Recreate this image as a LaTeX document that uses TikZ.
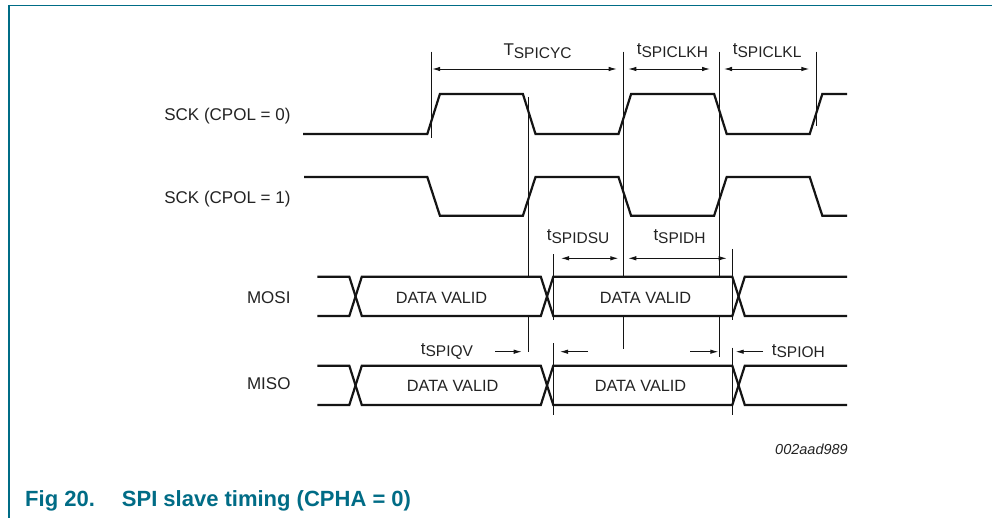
\documentclass[tikz,border=0pt]{standalone}
\usepackage{fontspec}
\setmainfont{Liberation Sans}
\usetikzlibrary{arrows.meta}
\definecolor{figteal}{RGB}{0,108,134}
\definecolor{sigcol}{RGB}{20,20,20}
\definecolor{txtcol}{RGB}{35,35,35}
\newcommand\tlab[2]{{\fontsize{17}{17}\selectfont #1}\raisebox{-2.8pt}{\fontsize{15.5}{15.5}\selectfont #2}}
\begin{document}
\begin{tikzpicture}[x=1pt,y=-1pt,
  sig/.style={line width=2.2pt, line join=miter, draw=sigcol},
  refl/.style={line width=0.9pt, draw=sigcol},
  dimar/.style={line width=0.9pt, draw=sigcol, {Latex[length=8pt,width=4.5pt]}-{Latex[length=8pt,width=4.5pt]}},
  onear/.style={line width=0.9pt, draw=sigcol, -{Latex[length=8pt,width=4.5pt]}},
  lbl/.style={anchor=base east, inner sep=0pt, font=\fontsize{17}{17}\selectfont, text=txtcol},
  tl/.style={anchor=base west, inner sep=0pt, text=txtcol},
  dv/.style={inner sep=0pt, font=\fontsize{16.3}{16.3}\selectfont, text=txtcol}]
\useasboundingbox (0,0) rectangle (992,518);
\fill[white] (0,0) rectangle (992,518);
% frame
\draw[figteal, line width=1.3pt] (8,5.5) -- (992,5.5);
\draw[figteal, line width=1.3pt] (9,5) -- (9,518);
% signal labels
\node[lbl] (l0) at (290.7,120.5) {SCK (CPOL = 0)};
\node[lbl] (l1) at (290.7,203.8) {SCK (CPOL = 1)};
\node[lbl] (lmosi) at (290.7,303.4) {MOSI};
\node[lbl] (lmiso) at (290.7,389.4) {MISO};
% SCK CPOL=0
\draw[sig] (303,134) -- (427.3,134) -- (439.9,94) -- (522.9,94) -- (535.5,134) -- (618.5,134) -- (631.1,94) -- (714.1,94) -- (726.7,134) -- (809.7,134) -- (822.3,94) -- (847,94);
% SCK CPOL=1
\draw[sig] (304,177) -- (427.3,177) -- (439.9,215.7) -- (522.9,215.7) -- (535.5,177) -- (618.5,177) -- (631.1,215.7) -- (714.1,215.7) -- (726.7,177) -- (809.7,177) -- (822.3,215.7) -- (847,215.7);
% MOSI
\draw[sig] (317.3,276.7) -- (349.3,276.7) -- (361.8,316) -- (540.8,316) -- (553.3,276.7) -- (732.3,276.7) -- (744.8,316) -- (847,316);
\draw[sig] (317.3,316) -- (349.3,316) -- (361.8,276.7) -- (540.8,276.7) -- (553.3,316) -- (732.3,316) -- (744.8,276.7) -- (847,276.7);
% MISO
\draw[sig] (317.3,365.7) -- (349.3,365.7) -- (361.8,405) -- (540.8,405) -- (553.3,365.7) -- (732.3,365.7) -- (744.8,405) -- (847,405);
\draw[sig] (317.3,405) -- (349.3,405) -- (361.8,365.7) -- (540.8,365.7) -- (553.3,405) -- (732.3,405) -- (744.8,365.7) -- (847,365.7);
% reference lines
\draw[refl] (431.7,51.7) -- (431.7,137.7);
\draw[refl] (528.6,97) -- (528.6,276.7) (528.6,316) -- (528.6,352.3);
\draw[refl] (553.3,254.3) -- (553.3,320) (553.3,343.3) -- (553.3,415);
\draw[refl] (623.3,51.7) -- (623.3,276.7) (623.3,316) -- (623.3,349);
\draw[refl] (719.3,51.7) -- (719.3,276.7) (719.3,316) -- (719.3,356.7);
\draw[refl] (732.7,249) -- (732.7,320) (732.7,347.7) -- (732.7,415);
\draw[refl] (816,51.7) -- (816,126);
% dimension arrows
\draw[dimar] (432.2,69) -- (616.7,69);
\draw[dimar] (628.3,69) -- (710,69);
\draw[dimar] (724,69) -- (809.3,69);
\draw[dimar] (561,258.3) -- (618.3,258.3);
\draw[dimar] (628.3,258.3) -- (726.7,258.3);
\draw[onear] (495,351.7) -- (521.7,351.7);
\draw[onear] (588,351.7) -- (560,351.7);
\draw[onear] (690,351.7) -- (718.3,351.7);
\draw[onear] (763,351.7) -- (735.7,351.7);
% timing labels
\node[tl] (tcyc) at (503.3,56) {\tlab{T}{SPICYC}};
\node[tl] (tclkh) at (636.7,54.5) {\tlab{t}{SPICLKH}};
\node[tl] (tclkl) at (732.7,54.5) {\tlab{t}{SPICLKL}};
\node[tl] (tdsu) at (546.7,240.5) {\tlab{t}{SPIDSU}};
\node[tl] (tdh) at (653.3,240.5) {\tlab{t}{SPIDH}};
\node[tl] (tqv) at (420.7,354) {\tlab{t}{SPIQV}};
\node[tl] (toh) at (771.7,355) {\tlab{t}{SPIOH}};
% data labels
\node[dv] (d1) at (441.5,297.7) {DATA VALID};
\node[dv] (d2) at (645.5,297.7) {DATA VALID};
\node[dv] (d3) at (452.7,386) {DATA VALID};
\node[dv] (d4) at (640.5,386) {DATA VALID};
% figure id and caption
\node[anchor=base east, inner sep=0pt, font=\fontsize{14.5}{14.5}\selectfont\itshape, text=txtcol] (fid) at (848,454) {002aad989};
\node[anchor=base west, inner sep=0pt, font=\fontsize{22}{22}\selectfont\bfseries, text=figteal] (cap1) at (25,506) {Fig 20.};
\node[anchor=base west, inner sep=0pt, font=\fontsize{22}{22}\selectfont\bfseries, text=figteal] (cap2) at (121.7,506) {SPI slave timing (CPHA = 0)};
\end{tikzpicture}
\end{document}
